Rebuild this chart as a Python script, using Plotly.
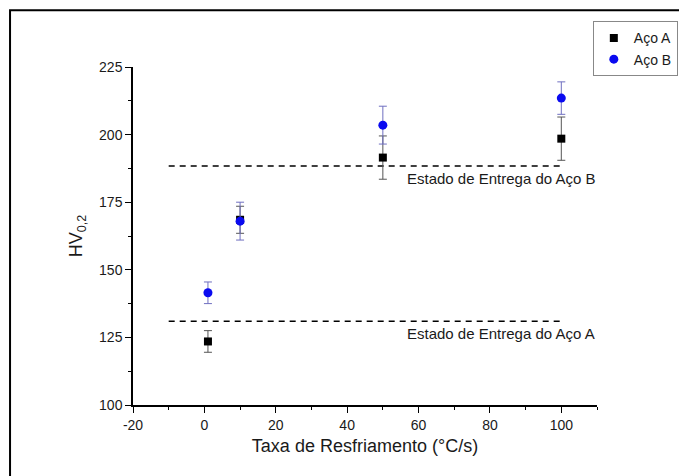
import plotly.graph_objects as go

# Cooling rate (°C/s) and Vickers hardness HV0.2 for each steel
taxa = [1, 10, 50, 100]
hv_aco_a = [123.5, 168.5, 191.5, 198.5]
err_aco_a = [4, 5, 8, 8]
hv_aco_b = [141.5, 168, 203.5, 213.5]
err_aco_b = [4, 7, 7, 6]

# As-delivered hardness reference levels
entrega_x = [-10, 100]
entrega_a = 131
entrega_b = 188.4
rotulo_a = "Estado de Entrega do Aço A"
rotulo_b = "Estado de Entrega do Aço B"

# Axis ticks (plain hyphen for negative labels)
x_ticks = [-20, 0, 20, 40, 60, 80, 100]
x_ticktext = ["-20", "0", "20", "40", "60", "80", "100"]
y_ticks = [100, 125, 150, 175, 200, 225]

FONT = "Liberation Sans, Arial, sans-serif"
TXT = "#1a1a1a"

fig = go.Figure()

# Reference dashed lines
for lvl in (entrega_a, entrega_b):
    fig.add_trace(go.Scatter(
        x=entrega_x, y=[lvl, lvl], mode="lines",
        line=dict(color="black", width=1.5, dash="6px,5px"),
        showlegend=False, hoverinfo="skip"))

fig.add_trace(go.Scatter(
    x=taxa, y=hv_aco_a, mode="markers", name="Aço A",
    marker=dict(symbol="square", size=8, color="black"),
    error_y=dict(type="data", array=err_aco_a, color="#555555",
                 thickness=1, width=4)))

fig.add_trace(go.Scatter(
    x=taxa, y=hv_aco_b, mode="markers", name="Aço B",
    marker=dict(symbol="circle", size=9, color="#0a0af0"),
    error_y=dict(type="data", array=err_aco_b, color="#6f6fc0",
                 thickness=1, width=4)))

for lvl, txt in ((entrega_b, rotulo_b), (entrega_a, rotulo_a)):
    fig.add_annotation(x=110, y=lvl, xref="x", yref="y", text=txt,
                       showarrow=False, xanchor="right", yanchor="top",
                       yshift=-2,
                       font=dict(family=FONT, size=15, color=TXT))

# Outer frame around the figure
fig.add_shape(type="rect", xref="paper", yref="paper",
              x0=-0.265, x1=1.25, y0=-0.3, y1=1.1676,
              line=dict(color="black", width=2), fillcolor="rgba(0,0,0,0)",
              layer="below")

axis_common = dict(
    showline=True, linecolor="black", linewidth=1.5,
    ticks="outside", ticklen=6, tickwidth=1.2, tickcolor="black",
    showgrid=False, zeroline=False, mirror=False,
    tickfont=dict(family=FONT, size=14, color=TXT),
)

fig.update_layout(
    width=679, height=476,
    margin=dict(l=133, r=82, t=67, b=71, autoexpand=False),
    paper_bgcolor="white", plot_bgcolor="white",
    font=dict(family=FONT, color=TXT),
    xaxis=dict(range=[-20, 110], tickvals=x_ticks, ticktext=x_ticktext,
               minor=dict(dtick=10, tick0=0, ticks="outside", ticklen=3,
                          tickcolor="black", tickwidth=1),
               title=dict(text="Taxa de Resfriamento (°C/s)",
                          font=dict(family=FONT, size=18, color=TXT),
                          standoff=8),
               **axis_common),
    yaxis=dict(range=[100, 225], tickvals=y_ticks,
               minor=dict(dtick=12.5, tick0=100, ticks="outside", ticklen=3,
                          tickcolor="black", tickwidth=1),
               title=dict(text="HV<sub>0,2</sub>",
                          font=dict(family=FONT, size=18, color=TXT),
                          standoff=12),
               **axis_common),
    legend=dict(x=0.991, y=1.135, xanchor="left", yanchor="top",
                bordercolor="#888888", borderwidth=1, bgcolor="white",
                font=dict(family=FONT, size=14, color=TXT),
                tracegroupgap=0),
)

fig.write_html("out.html")
